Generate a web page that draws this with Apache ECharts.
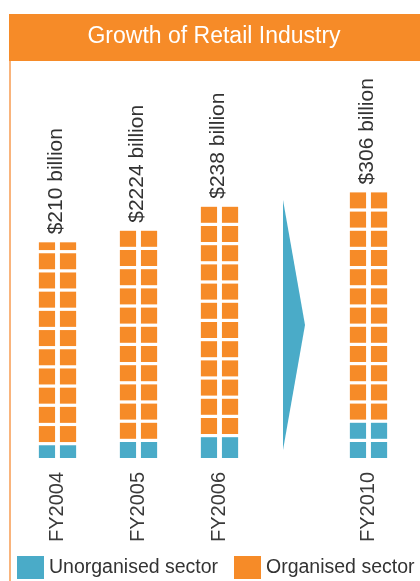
<!DOCTYPE html>
<html>
<head>
<meta charset="utf-8">
<script src="https://cdn.jsdelivr.net/npm/echarts@6/dist/echarts.min.js"></script>
<style>
  html, body { margin: 0; padding: 0; background: #fff; }
  #chart { width: 420px; height: 581px; }
</style>
</head>
<body>
<div id="chart"></div>
<script>
// values are counted in squares (one square = one unit on the y axis)
const categories = ['FY2004', 'FY2005', 'FY2006', 'FY2010'];
const unorganised = [0.83, 1, 1.25, 2];
const organised = [10.57, 11, 12, 12];
const totalLabels = ['$210 billion', '$2224 billion', '$238 billion', '$306 billion'];
const splitAt = 3; // the arrow sits between FY2006 and FY2010

const ORANGE = '#f68b28';
const BLUE = '#4aabc8';
const FONT = '"Liberation Sans", Arial, sans-serif';

const chart = echarts.init(document.getElementById('chart'));

function renderSquares(params, api) {
    const idx = api.value(0);
    const base = api.value(1);
    const val = api.value(2);
    const labelIdx = api.value(3);
    const center = api.coord([idx, base]);
    const band = api.size([1, 0])[0];
    const pitch = api.size([0, 1])[1];
    const gap = pitch / 6;
    const w = band * 0.2;
    const colGap = band * 0.06;

    // whole squares, then a partial one (small leftovers stretch the last square)
    const cells = [];
    const n = Math.floor(val + 1e-9);
    const f = val - n;
    for (let k = 0; k < n; k++) cells.push(1);
    if (f > 1e-6) {
        if (f < 0.4 && n > 0) cells[n - 1] += f;
        else cells.push(f);
    }

    const children = [];
    let start = base;
    cells.forEach(h => {
        const yBottom = api.coord([idx, start])[1];
        const hp = h * pitch - gap;
        children.push({
            type: 'rect',
            shape: { x: center[0] - colGap / 2 - w, y: yBottom - hp, width: w, height: hp },
            style: api.style()
        });
        children.push({
            type: 'rect',
            shape: { x: center[0] + colGap / 2, y: yBottom - hp, width: w, height: hp },
            style: api.style()
        });
        start += h;
    });

    if (labelIdx >= 0) {
        const topY = api.coord([idx, base + val])[1] + gap;
        children.push({
            type: 'text',
            x: center[0] - 1,
            y: topY - 8,
            rotation: Math.PI / 2,
            style: {
                text: totalLabels[labelIdx],
                fill: '#333',
                fontSize: 21,
                fontFamily: FONT,
                align: 'left',
                verticalAlign: 'middle'
            }
        });
    }
    return { type: 'group', children: children };
}

function makeSeries(name, color, panel) {
    const from = panel === 0 ? 0 : splitAt;
    const to = panel === 0 ? splitAt : categories.length;
    const data = [];
    for (let i = from; i < to; i++) {
        if (name === 'Unorganised sector') {
            data.push([i - from, 0, unorganised[i], -1]);
        } else {
            data.push([i - from, unorganised[i], organised[i], i]);
        }
    }
    return {
        name: name,
        type: 'custom',
        xAxisIndex: panel,
        yAxisIndex: panel,
        itemStyle: { color: color },
        renderItem: renderSquares,
        data: data
    };
}

const xAxisBase = {
    type: 'category',
    axisLine: { show: false },
    axisTick: { show: false },
    axisLabel: {
        rotate: 90,
        margin: 14,
        fontSize: 20,
        fontFamily: FONT,
        color: '#3a3a3a'
    }
};
const yAxisBase = { type: 'value', min: 0, max: 15, show: false };

const legendBase = {
    top: 556,
    padding: 0,
    icon: 'rect',
    itemWidth: 27,
    itemHeight: 23,
    selectedMode: false,
    textStyle: { fontSize: 19.5, fontFamily: FONT, color: '#333' }
};

const option = {
    backgroundColor: '#fff',
    animation: false,
    graphic: [
        { type: 'rect', shape: { x: 9, y: 14, width: 411, height: 47 }, style: { fill: ORANGE } },
        { type: 'line', shape: { x1: 10, y1: 61, x2: 10, y2: 581 }, style: { stroke: '#f9b47c', lineWidth: 2 } },
        {
            type: 'text', x: 214, y: 37,
            style: {
                text: 'Growth of Retail Industry', fill: '#fff', fontSize: 23,
                fontFamily: FONT, align: 'center', verticalAlign: 'middle'
            }
        },
        // arrow between before / after panels
        { type: 'polygon', shape: { points: [[283, 200], [305, 325], [283, 450]] }, style: { fill: BLUE } }
    ],
    legend: [
        Object.assign({ data: ['Unorganised sector'], left: 17 }, legendBase),
        Object.assign({ data: ['Organised sector'], left: 234 }, legendBase)
    ],
    grid: [
        { left: 17, width: 243, top: 170, height: 288 },
        { left: 328, width: 81, top: 170, height: 288 }
    ],
    xAxis: [
        Object.assign({ gridIndex: 0, data: categories.slice(0, splitAt) }, xAxisBase),
        Object.assign({ gridIndex: 1, data: categories.slice(splitAt) }, xAxisBase)
    ],
    yAxis: [
        Object.assign({ gridIndex: 0 }, yAxisBase),
        Object.assign({ gridIndex: 1 }, yAxisBase)
    ],
    series: [
        makeSeries('Unorganised sector', BLUE, 0),
        makeSeries('Organised sector', ORANGE, 0),
        makeSeries('Unorganised sector', BLUE, 1),
        makeSeries('Organised sector', ORANGE, 1)
    ]
};

chart.setOption(option);
</script>
</body>
</html>
